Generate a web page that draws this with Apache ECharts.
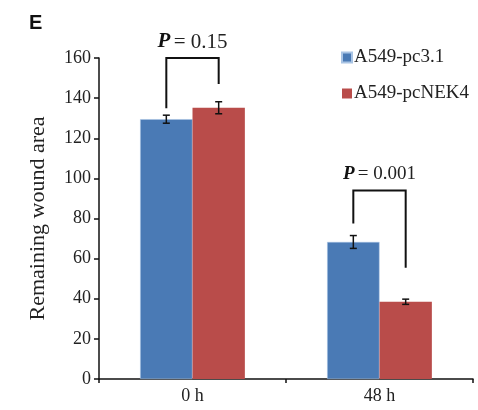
<!DOCTYPE html>
<html>
<head>
<meta charset="utf-8">
<script src="https://cdn.jsdelivr.net/npm/echarts@6/dist/echarts.min.js"></script>
<style>
  html, body { margin: 0; padding: 0; background: #fff; }
  #chart { width: 478px; height: 410px; }
</style>
</head>
<body>
<div id="chart"></div>
<script>
const categories = ['0 h', '48 h'];
const seriesNames = ['A549-pc3.1', 'A549-pcNEK4'];
const pc31Values = [129.5, 68.3];
const nek4Values = [135.2, 38.5];
const pc31Errors = [2.0, 3.2];
const nek4Errors = [3.0, 1.3];
// bracket: [category, left arm bottom, right arm bottom, top]
const brackets = [[0, 135, 147, 160], [1, 77.5, 55.5, 94]];
const pLabels = ['0.15', '0.001'];
const yTicks = { min: 0, max: 160, interval: 20 };

const blue = '#4a7ab5';
const red = '#b94c4a';
const serif = '"Liberation Serif", "Times New Roman", serif';
const barShare = 0.28;

const errorData = [];
pc31Values.forEach((v, i) => errorData.push([i, v, pc31Errors[i], 0]));
nek4Values.forEach((v, i) => errorData.push([i, v, nek4Errors[i], 1]));

const chart = echarts.init(document.getElementById('chart'));

chart.setOption({
  backgroundColor: '#fff',
  animation: false,
  title: {
    text: 'E',
    left: 24,
    top: 8,
    textStyle: { fontFamily: '"Liberation Sans", Arial, sans-serif', fontSize: 20, fontWeight: 'bold', color: '#111' }
  },
  legend: {
    data: seriesNames,
    orient: 'vertical',
    left: 336,
    top: 43,
    icon: 'rect',
    itemWidth: 10,
    itemHeight: 10,
    itemGap: 17,
    textStyle: { fontFamily: serif, fontSize: 19, color: '#222', padding: [0, 0, 0, -3] }
  },
  grid: { left: 99, right: 5, top: 58, bottom: 31, containLabel: false },
  xAxis: {
    type: 'category',
    data: categories,
    axisLine: { lineStyle: { color: '#111', width: 1.5 } },
    axisTick: { show: true, length: 4, lineStyle: { color: '#111', width: 1.5 } },
    axisLabel: { fontFamily: serif, fontSize: 18, color: '#222', margin: 8 }
  },
  yAxis: {
    type: 'value',
    min: yTicks.min,
    max: yTicks.max,
    interval: yTicks.interval,
    name: 'Remaining wound area',
    nameLocation: 'middle',
    nameGap: 50,
    nameTextStyle: { fontFamily: serif, fontSize: 22, color: '#222' },
    axisLine: { show: true, lineStyle: { color: '#111', width: 1.5 } },
    axisTick: { show: true, length: 5, lineStyle: { color: '#111', width: 1.5 } },
    axisLabel: { fontFamily: serif, fontSize: 18, color: '#222', margin: 8 },
    splitLine: { show: false }
  },
  series: [
    {
      name: seriesNames[0],
      type: 'bar',
      data: pc31Values,
      barWidth: (barShare * 100) + '%',
      barGap: '0%',
      itemStyle: { color: blue, borderColor: '#a9c4e4', borderWidth: 0.5 }
    },
    {
      name: seriesNames[1],
      type: 'bar',
      data: nek4Values,
      barWidth: (barShare * 100) + '%',
      barGap: '0%',
      itemStyle: { color: red }
    },
    {
      type: 'custom',
      z: 10,
      data: errorData,
      renderItem(params, api) {
        const cat = api.value(0), mean = api.value(1), err = api.value(2), s = api.value(3);
        const band = api.size([1, 0])[0];
        const x = api.coord([cat, mean])[0] + (s === 0 ? -1 : 1) * band * barShare / 2;
        const yTop = api.coord([cat, mean + err])[1];
        const yBot = api.coord([cat, mean - err])[1];
        const cap = 3.5;
        const st = { stroke: '#111', lineWidth: 1.5 };
        return {
          type: 'group',
          children: [
            { type: 'line', shape: { x1: x, y1: yTop, x2: x, y2: yBot }, style: st },
            { type: 'line', shape: { x1: x - cap, y1: yTop, x2: x + cap, y2: yTop }, style: st },
            { type: 'line', shape: { x1: x - cap, y1: yBot, x2: x + cap, y2: yBot }, style: st }
          ]
        };
      }
    },
    {
      type: 'custom',
      z: 10,
      data: brackets,
      renderItem(params, api) {
        const cat = api.value(0);
        const band = api.size([1, 0])[0];
        const cx = api.coord([cat, 0])[0];
        const xl = cx - band * barShare / 2;
        const xr = cx + band * barShare / 2;
        const yl = api.coord([cat, api.value(1)])[1];
        const yr = api.coord([cat, api.value(2)])[1];
        const yt = api.coord([cat, api.value(3)])[1];
        const fs = params.dataIndex === 0 ? 21 : 19;
        return {
          type: 'group',
          children: [
            {
              type: 'polyline',
              shape: { points: [[xl, yl], [xl, yt], [xr, yt], [xr, yr]] },
              style: { stroke: '#111', lineWidth: 2, fill: null }
            },
            {
              type: 'text',
              style: {
                x: cx,
                y: yt - 16,
                text: '{p|P} {n|= ' + pLabels[params.dataIndex] + '}',
                align: 'center',
                verticalAlign: 'middle',
                rich: {
                  p: { fontFamily: serif, fontSize: fs, fontWeight: 'bold', fontStyle: 'italic', fill: '#111' },
                  n: { fontFamily: serif, fontSize: fs, fill: '#222' }
                }
              }
            }
          ]
        };
      }
    }
  ]
});
</script>
</body>
</html>
